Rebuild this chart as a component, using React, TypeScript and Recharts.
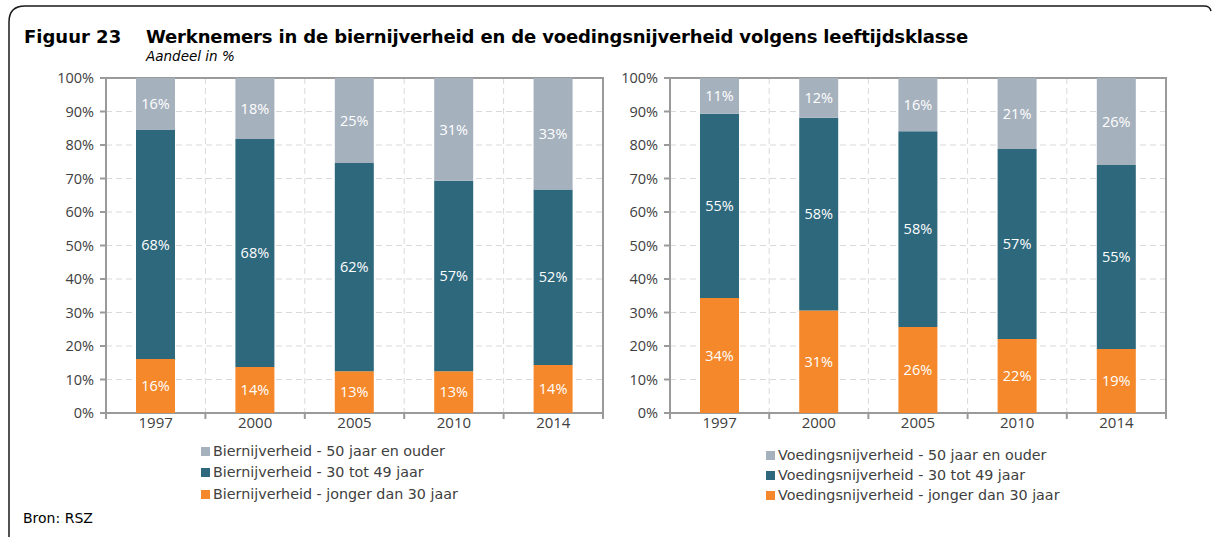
import { BarChart, Bar, XAxis, YAxis, CartesianGrid, LabelList, ReferenceArea } from 'recharts';

const years = ['1997', '2000', '2005', '2010', '2014'];

// Biernijverheid (%)
const bierJong = [16.1, 13.7, 12.5, 12.5, 14.3];
const bierMidden = [68.4, 68.1, 62.1, 56.8, 52.4];
const bierOud = [15.5, 18.2, 25.4, 30.7, 33.3];

// Voedingsnijverheid (%)
const voedJong = [34.3, 30.6, 25.7, 22.1, 19.1];
const voedMidden = [55.0, 57.5, 58.4, 56.7, 54.9];
const voedOud = [10.7, 11.9, 15.9, 21.2, 26.0];

const yTicks = [0, 10, 20, 30, 40, 50, 60, 70, 80, 90, 100];

const COLORS = { oud: '#a6b1be', midden: '#2e687d', jong: '#f5882a' };
const AXIS_GRAY = '#9a9a9a';
const TEXT = '#404040';
const tickFont = "'Open Sans', sans-serif";
const textFont = "'DejaVu Sans', Verdana, sans-serif";

const Y_AXIS_W = 50;
const RIGHT_M = 7;

function buildRows(jong: number[], midden: number[], oud: number[]) {
    return years.map((year, i) => ({ year, pos: i + 0.5, jong: jong[i], midden: midden[i], oud: oud[i] }));
}

const pct = (v: any) => `${Math.round(Number(v))}%`;

function StackChart({ rows, width, marginLeft }: { rows: any[]; width: number; marginLeft: number }) {
    const step = (width - marginLeft - Y_AXIS_W - RIGHT_M) / rows.length;

    const YearTick = (props: any) => {
        const { x, y, payload, index } = props;
        return (
            <g>
                <line x1={x - step / 2} x2={x - step / 2} y1={y} y2={y + 6} stroke={AXIS_GRAY} strokeWidth={2} />
                {index === rows.length - 1 && (
                    <line x1={x + step / 2} x2={x + step / 2} y1={y} y2={y + 6} stroke={AXIS_GRAY} strokeWidth={2} />
                )}
                <text x={x} y={y + 4} dy="0.75em" textAnchor="middle" fill={TEXT} fontSize={15} fontFamily={tickFont}>
                    {payload.value}
                </text>
            </g>
        );
    };

    return (
        <BarChart width={width} height={383} data={rows} margin={{ top: 18, right: RIGHT_M, bottom: 0, left: marginLeft }}>
            <CartesianGrid
                stroke="#d9d9d9"
                strokeDasharray="6 4"
                verticalCoordinatesGenerator={({ offset }: any) =>
                    rows.map((_, i) => offset.left + (i + 1) * (offset.width / rows.length)).slice(0, rows.length - 1)
                }
            />
            <XAxis xAxisId="g" dataKey="pos" type="number" domain={[0, 5]} allowDataOverflow hide />
            <XAxis
                dataKey="year"
                height={30}
                axisLine={false}
                tickLine={false}
                tickSize={0}
                tickMargin={0}
                tick={YearTick}
                interval={0}
            />
            <YAxis
                domain={[0, 100]}
                ticks={yTicks}
                width={Y_AXIS_W}
                axisLine={false}
                tickLine={{ stroke: AXIS_GRAY, strokeWidth: 2 }}
                tickSize={6}
                tickMargin={6}
                tickFormatter={(v) => `${v}%`}
                tick={{ fill: TEXT, fontSize: 14.5, fontFamily: tickFont }}
            />
            <Bar dataKey="jong" stackId="a" fill={COLORS.jong} barSize={39} isAnimationActive={false}>
                <LabelList dataKey="jong" position="center" fill="#ffffff" fontSize={14.5} fontFamily={tickFont} formatter={pct} />
            </Bar>
            <Bar dataKey="midden" stackId="a" fill={COLORS.midden} barSize={39} isAnimationActive={false}>
                <LabelList dataKey="midden" position="center" fill="#ffffff" fontSize={14.5} fontFamily={tickFont} formatter={pct} />
            </Bar>
            <Bar dataKey="oud" stackId="a" fill={COLORS.oud} barSize={39} isAnimationActive={false}>
                <LabelList dataKey="oud" position="center" fill="#ffffff" fontSize={14.5} fontFamily={tickFont} formatter={pct} />
            </Bar>
            <ReferenceArea
                xAxisId="g"
                x1={0}
                x2={5}
                y1={0}
                y2={100}
                fill="none"
                stroke={AXIS_GRAY}
                strokeWidth={2}
                ifOverflow="visible"
            />
        </BarChart>
    );
}

function Legend({ sector, left, top, gap }: { sector: string; left: number; top: number; gap: number[] }) {
    const items = [
        { label: `${sector} - 50 jaar en ouder`, color: COLORS.oud },
        { label: `${sector} - 30 tot 49 jaar`, color: COLORS.midden },
        { label: `${sector} - jonger dan 30 jaar`, color: COLORS.jong },
    ];
    return (
        <div style={{ position: 'absolute', left, top }}>
            {items.map((it, i) => (
                <div
                    key={it.label}
                    style={{ display: 'flex', alignItems: 'center', height: 20, marginBottom: gap[i] ?? 0, fontFamily: textFont, fontSize: 14.3, color: TEXT, whiteSpace: 'nowrap' }}
                >
                    <span style={{ width: 9, height: 9, background: it.color, marginRight: 3, display: 'inline-block' }} />
                    {it.label}
                </div>
            ))}
        </div>
    );
}

export default function App() {
    return (
        <div style={{ position: 'absolute', left: 0, top: 0, width: 1214, height: 538, background: '#ffffff', overflow: 'hidden' }}>
            <svg width={1214} height={538} style={{ position: 'absolute', left: 0, top: 0 }}>
                <path d="M 9 537 L 9 22 Q 9 6 25 6 L 1204 6 Q 1210 6 1211 11" fill="none" stroke="#1a1a1a" strokeWidth={1.5} />
            </svg>
            <div style={{ position: 'absolute', left: 24, top: 26, fontFamily: textFont, fontWeight: 'bold', fontSize: 18, color: '#000', whiteSpace: 'nowrap' }}>
                Figuur 23
            </div>
            <div style={{ position: 'absolute', left: 146, top: 26, fontFamily: textFont, fontWeight: 'bold', fontSize: 18, color: '#000', whiteSpace: 'nowrap', letterSpacing: -0.15 }}>
                Werknemers in de biernijverheid en de voedingsnijverheid volgens leeftijdsklasse
            </div>
            <div style={{ position: 'absolute', left: 146, top: 48, fontFamily: textFont, fontStyle: 'italic', fontSize: 13.5, color: '#000', whiteSpace: 'nowrap' }}>
                Aandeel in %
            </div>

            <div style={{ position: 'absolute', left: 0, top: 60 }}>
                <StackChart rows={buildRows(bierJong, bierMidden, bierOud)} width={610} marginLeft={56} />
            </div>
            <div style={{ position: 'absolute', left: 580, top: 60 }}>
                <StackChart rows={buildRows(voedJong, voedMidden, voedOud)} width={593} marginLeft={40} />
            </div>

            <Legend sector="Biernijverheid" left={201} top={441} gap={[1, 2]} />
            <Legend sector="Voedingsnijverheid" left={766} top={445} gap={[0, 0]} />

            <div style={{ position: 'absolute', left: 23, top: 510, fontFamily: textFont, fontSize: 14, color: '#000' }}>Bron: RSZ</div>
        </div>
    );
}
